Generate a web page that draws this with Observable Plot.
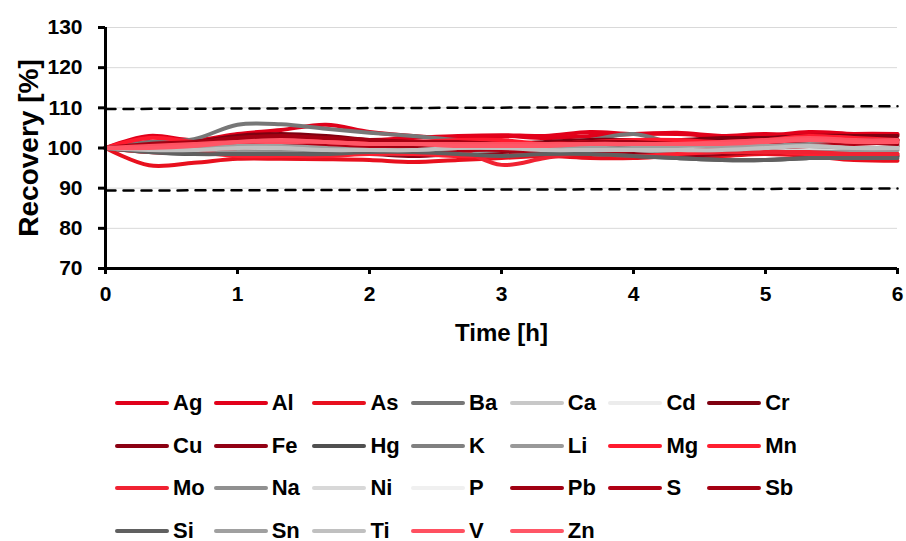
<!DOCTYPE html>
<html>
<head>
<meta charset="utf-8">
<script src="https://cdn.jsdelivr.net/npm/d3@7"></script>
<script src="https://cdn.jsdelivr.net/npm/@observablehq/plot@0.6"></script>
<style>
  body { margin: 0; background: #fff; font-family: "Liberation Sans", Arial, sans-serif; }
  #chart { width: 906px; }
  #legend { position: absolute; left: 115px; top: 382px; display: grid; grid-template-columns: repeat(7, 98.7px); grid-auto-rows: 42.5px; }
  .item { display: flex; align-items: center; font-weight: bold; font-size: 22px; color: #000; }
  .sw { width: 54px; height: 4px; border-radius: 2px; margin-right: 4px; flex: none; }
</style>
</head>
<body>
<div id="chart"></div>
<div id="legend"></div>
<script>
const times = [0, 0.33, 0.67, 1, 1.33, 1.67, 2, 2.33, 2.67, 3, 3.33, 3.67, 4, 4.33, 4.67, 5, 5.33, 5.67, 6];
const elements = ["Ag","Al","As","Ba","Ca","Cd","Cr","Cu","Fe","Hg","K","Li","Mg","Mn","Mo","Na","Ni","P","Pb","S","Sb","Si","Sn","Ti","V","Zn"];
const colors = ["#e0001a","#e2001a","#e8101e","#777777","#c8c8c8","#ececec","#7f0010","#8b0012","#920014","#505050","#808080","#999999","#ff1a2e","#ff1f30","#f02232","#909090","#d8d8d8","#f0f0f0","#a00012","#b00014","#a40012","#606060","#a0a0a0","#c0c0c0","#ff5060","#ff5666"];

const Ag = [100, 103, 102, 103.5, 104.5, 105.8, 104, 103, 102.5, 103, 102.5, 103, 103.5, 103.5, 103, 103.5, 103, 103.5, 103.5];
const Al = [100, 101.5, 101, 102, 102.5, 102.5, 102, 102.5, 103, 103.2, 103, 104, 103.5, 103.8, 103, 103, 104, 103.5, 103.3];
const As = [100, 95.7, 96.3, 97.3, 97.3, 97.2, 97, 96.5, 97, 97.5, 98, 97.5, 97.5, 98, 98, 98.5, 98, 97, 96.8];
const Ba = [100, 101.5, 102.2, 105.8, 105.9, 104.8, 103.8, 103, 102, 101.5, 101, 102, 103.5, 101, 100.5, 100, 100.5, 101, 100.5];
const Ca = [100, 99.5, 99, 99.5, 99.5, 99, 99, 99, 99.5, 100, 99.5, 99.5, 99.5, 99.5, 99.5, 99.5, 100, 100, 99.5];
const Cd = [100, 100, 100.5, 100, 100, 100.5, 100.5, 100, 100, 100.5, 100.5, 100, 100, 100.5, 100.5, 100, 100, 100.5, 100.5];
const Cr = [100, 101, 101.5, 103, 103.5, 103, 102, 101.5, 101, 101, 101.5, 102, 102, 102, 102.5, 102.5, 103, 103, 103];
const Cu = [100, 100.5, 100.5, 102, 102.5, 102, 101.5, 101, 100.5, 100.5, 101, 101, 101.5, 101.5, 101.5, 102, 102, 102, 102];
const Fe = [100, 99.5, 99, 99, 98.5, 98.5, 98.5, 98, 98.5, 99, 99, 98.5, 98.5, 98, 98.5, 99, 98.5, 98, 98];
const Hg = [100, 99, 98.5, 99, 99, 98.5, 98.5, 98.5, 99, 99.5, 99, 98.5, 98, 97.5, 97, 97, 97.5, 98, 98];
const K = [100, 101, 101, 100.5, 100, 100.5, 101, 101.5, 101, 100.5, 100, 100.5, 101, 100.5, 100, 100, 100, 100.5, 100.5];
const Li = [100, 100, 99.5, 99.5, 99.5, 99.5, 99, 99, 99, 99.5, 99.5, 99.5, 99.5, 99, 99, 99.5, 99.5, 99.5, 99.5];
const Mg = [100, 102.5, 101.5, 101, 101.5, 102, 101.5, 101.5, 102, 102, 101, 101.5, 102, 102, 101.5, 102, 103, 102.5, 102];
const Mn = [100, 99, 99, 98, 98, 98, 98.5, 98.5, 98, 98, 98.5, 98.5, 98, 98.5, 99, 99, 98.5, 98.5, 98.5];
const Mo = [100, 100, 100.5, 101, 101, 100.5, 100, 99.5, 99.5, 95.8, 97.5, 99, 99.5, 99.5, 99, 99, 99, 98.5, 98.5];
const Na = [100, 100.5, 100.5, 100, 99.5, 100, 100, 100, 100.5, 101, 100.5, 100, 100, 100, 100.5, 101, 101, 101, 100.5];
const Ni = [100, 100, 99.5, 100, 100, 100, 99.5, 99.5, 100, 100, 100, 100, 100, 99.5, 99.5, 100, 100, 100, 100];
const P = [100, 100.5, 100, 100, 100.5, 100.5, 100, 100, 100.5, 100.5, 100, 100, 100.5, 100.5, 100, 100, 100.5, 100.5, 100];
const Pb = [100, 100.5, 101, 101.5, 101.5, 101, 100.5, 100.5, 100.5, 100, 100, 100.5, 100.5, 101, 101, 101.5, 102, 102, 102];
const S = [100, 99.5, 99.5, 100, 100.5, 100.5, 100, 99.5, 99.5, 99.5, 99, 99, 99.5, 99.5, 99.5, 100, 100.5, 101, 101.5];
const Sb = [100, 101, 101.5, 102.5, 103, 102.5, 102, 101.5, 101.5, 101, 101, 101.5, 101.5, 101, 101, 101.5, 102, 101.5, 101];
const Si = [100, 99, 98.5, 98.5, 98.5, 98.5, 99, 99, 98.5, 98, 98.5, 98.5, 98, 97.5, 97, 97, 97.5, 97.5, 97.5];
const Sn = [100, 100, 100, 100.5, 100.5, 100, 99.5, 99.5, 100, 100, 100, 100, 100, 100.5, 100.5, 100.5, 100.5, 100, 100];
const Ti = [100, 99.5, 99.5, 100, 100, 99.5, 99.5, 99.5, 100, 100, 99.5, 99.5, 99.5, 99.5, 99.5, 100, 100.5, 100, 100];
const V = [100, 100.5, 101, 101.5, 101.5, 101.5, 101, 101, 101, 101, 101, 101, 101, 101, 101.5, 102, 102.5, 102, 102];
const Zn = [100, 100, 100.5, 101.5, 102, 101.5, 101, 101, 100.5, 100.5, 100.5, 101, 101, 101, 101, 101.5, 102, 101.5, 101.5];
const series = [Ag, Al, As, Ba, Ca, Cd, Cr, Cu, Fe, Hg, K, Li, Mg, Mn, Mo, Na, Ni, P, Pb, S, Sb, Si, Sn, Ti, V, Zn];

const limitTimes = [0, 6];
const upperLimit = [109.7, 110.4];
const lowerLimit = [89.4, 89.9];
const yTicks = [70, 80, 90, 100, 110, 120, 130];
const xTicks = [0, 1, 2, 3, 4, 5, 6];

const rows = [];
elements.forEach((el, i) => series[i].forEach((v, j) => rows.push({el, t: times[j], v})));
const limits = [];
limitTimes.forEach((t, j) => { limits.push({k: "u", t, v: upperLimit[j]}); limits.push({k: "l", t, v: lowerLimit[j]}); });

const font = {fontFamily: "Liberation Sans, Arial, sans-serif", fontWeight: "bold", color: "#000", background: "#fff", overflow: "visible"};

const chart = Plot.plot({
  width: 906, height: 350,
  marginLeft: 105, marginRight: 9, marginTop: 27, marginBottom: 82,
  style: font,
  x: {domain: [0, 6]},
  y: {domain: [70, 130]},
  color: {domain: elements, range: colors},
  marks: [
    Plot.ruleY(yTicks.filter(d => d > 70), {stroke: "#d9d9d9", strokeWidth: 1}),
    Plot.line(limits, {x: "t", y: "v", z: "k", stroke: "#000", strokeWidth: 2.5, strokeDasharray: "10,8"}),
    Plot.lineY(rows, {x: "t", y: "v", z: "el", stroke: "el", strokeWidth: 4, curve: "catmull-rom"}),
    Plot.ruleX([0], {stroke: "#000", strokeWidth: 3}),
    Plot.ruleY([70], {stroke: "#000", strokeWidth: 3}),
    Plot.axisY(yTicks, {tickSize: 7, tickPadding: 16, strokeWidth: 3, label: null, fontSize: 21, fontWeight: "bold", fill: "#000"}),
    Plot.axisX(xTicks, {tickSize: 6, tickPadding: 12, strokeWidth: 3, label: null, tickFormat: d => d, fontSize: 21, fontWeight: "bold", fill: "#000"}),
    Plot.text(["Time [h]"], {frameAnchor: "bottom", dy: 65, textAnchor: "middle", lineAnchor: "middle", fontSize: 24, fontWeight: "bold", fill: "#000"}),
    Plot.text(["Recovery [%]"], {frameAnchor: "left", dx: -76, rotate: -90, textAnchor: "middle", lineAnchor: "middle", fontSize: 28, fontWeight: "bold", fill: "#000"})
  ]
});
document.getElementById("chart").appendChild(chart);

const legend = document.getElementById("legend");
elements.forEach((el, i) => {
  const d = document.createElement("div");
  d.className = "item";
  d.innerHTML = `<span class="sw" style="background:${colors[i]}"></span><span>${el}</span>`;
  legend.appendChild(d);
});
</script>
</body>
</html>
